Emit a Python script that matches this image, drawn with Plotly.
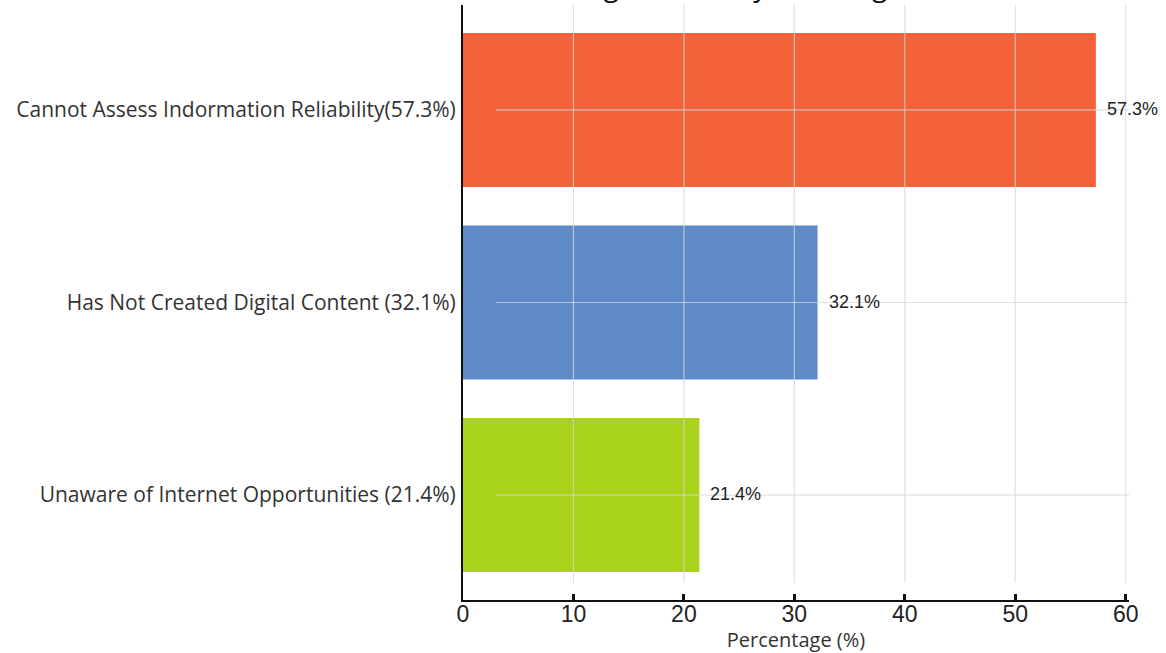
import plotly.graph_objects as go

categories = [
    "Cannot Assess Indormation Reliability(57.3%)",
    "Has Not Created Digital Content (32.1%)",
    "Unaware of Internet Opportunities (21.4%)",
]
values = [57.3, 32.1, 21.4]
value_labels = ["57.3%", "32.1%", "21.4%"]
colors = ["#F3623A", "#5E8AC7", "#A8D31A"]
x_ticks = [0, 10, 20, 30, 40, 50, 60]
title_text = "Digital Literacy Challenges"
x_title = "Percentage (%)"

label_font = "Open Sans, Lato, sans-serif"

fig = go.Figure()
fig.add_trace(go.Bar(
    y=categories, x=values, orientation="h",
    marker=dict(color=colors, line=dict(width=0)),
    width=0.8, showlegend=False, hoverinfo="skip",
))

# value labels beside bars
for c, v, t in zip(categories, values, value_labels):
    fig.add_annotation(x=v, y=c, xref="x", yref="y", text=t, showarrow=False,
                       xanchor="left", yanchor="middle", xshift=9, yshift=1,
                       font=dict(family="Liberation Sans, Arial", size=18, color="#222"))

grid_col = "rgba(215,215,215,0.75)"
# vertical gridlines (drawn above bars)
for t in x_ticks[1:]:
    fig.add_shape(type="line", xref="x", yref="paper", x0=t, x1=t, y0=0.029, y1=1,
                  line=dict(color=grid_col, width=1.2), layer="above")
# horizontal gridlines at categories
for c in categories:
    fig.add_shape(type="line", xref="x", yref="y", x0=3, x1=60.35, y0=c, y1=c,
                  line=dict(color=grid_col, width=1.2), layer="above")

fig.add_annotation(x=0.5, y=1, xref="paper", yref="paper", text=title_text,
                   showarrow=False, xanchor="center", yanchor="bottom", yshift=-1, xshift=-50,
                   font=dict(family=label_font, size=28, color="#111"))

fig.update_xaxes(range=[0, 60.3], tickvals=x_ticks, showgrid=False, zeroline=False,
                 showline=True, linecolor="#111", linewidth=2, automargin=False,
                 ticks="inside", ticklen=6, tickwidth=3, tickcolor="#111",
                 ticklabelstandoff=-8,
                 tickfont=dict(family="Liberation Sans, Arial", size=23, color="#222"),
                 title=dict(text=x_title, font=dict(family=label_font, size=20, color="#333"), standoff=0))
fig.update_yaxes(type="category", categoryorder="array", categoryarray=categories[::-1],
                 range=[-0.545, 2.545], showgrid=False, zeroline=False, automargin=False,
                 showline=True, linecolor="#111", linewidth=2, ticks="",
                 ticklabelstandoff=1,
                 tickfont=dict(family=label_font, size=21, color="#333"))

fig.update_layout(width=1166, height=653, margin=dict(l=463, r=37, t=5, b=53),
                  plot_bgcolor="white", paper_bgcolor="white", bargap=0.2)
fig.write_html("out.html")
